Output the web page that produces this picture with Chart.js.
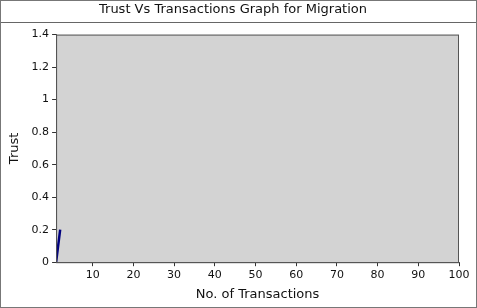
<!DOCTYPE html>
<html>
<head>
<meta charset="utf-8">
<script src="https://cdn.jsdelivr.net/npm/chart.js@4/dist/chart.umd.min.js"></script>
<style>
  html, body { margin: 0; padding: 0; background: #fff; }
  #wrap { width: 477px; height: 308px; position: relative; }
</style>
</head>
<body>
<div id="wrap"><canvas id="grafico"></canvas></div>
<script>
// datos del gráfico
const transacciones = [1, 2];
const confianza = [0, 0.2];
const xTicks = [10, 20, 30, 40, 50, 60, 70, 80, 90, 100];
const yTicks = [0, 0.2, 0.4, 0.6, 0.8, 1, 1.2, 1.4];

(function() {
    const fondoYMarco = {
        id: 'fondoYMarco',
        beforeDraw(chart) {
            const { ctx, chartArea: a } = chart;
            ctx.save();
            ctx.fillStyle = '#d3d3d3';
            ctx.fillRect(a.left, a.top, a.right - a.left, a.bottom - a.top);
            ctx.restore();
        },
        afterDraw(chart) {
            const { ctx, chartArea: a, width, height } = chart;
            ctx.save();
            ctx.strokeStyle = '#555';
            ctx.lineWidth = 1;
            ctx.strokeRect(a.left + 0.5, a.top + 0.5, a.right - a.left - 1, a.bottom - a.top);
            // línea bajo el título
            ctx.strokeStyle = '#666';
            ctx.beginPath();
            ctx.moveTo(0, 22.5);
            ctx.lineTo(width, 22.5);
            ctx.stroke();
            // borde exterior
            ctx.strokeStyle = '#777';
            ctx.strokeRect(0.5, 0.5, width - 1, height - 1);
            ctx.restore();
        }
    };

    const ctx = document.getElementById('grafico');
    new Chart(ctx, {
        type: 'line',
        data: {
            datasets: [{
                data: transacciones.map((x, i) => ({ x: x, y: confianza[i] })),
                borderColor: '#00007f',
                borderWidth: 2.5,
                pointRadius: 0,
                tension: 0
            }]
        },
        plugins: [fondoYMarco],
        options: {
            responsive: true,
            maintainAspectRatio: false,
            animation: false,
            layout: { padding: { left: 7, right: 18, top: 0, bottom: 6 } },
            plugins: {
                legend: { display: false },
                tooltip: { enabled: false },
                title: {
                    display: true,
                    text: 'Trust Vs Transactions Graph for Migration',
                    color: '#111',
                    font: { family: 'DejaVu Sans', size: 13, weight: 'normal' },
                    padding: { top: 2, bottom: 17 }
                }
            },
            scales: {
                x: {
                    type: 'linear',
                    min: 1,
                    max: 100,
                    afterBuildTicks: (axis) => { axis.ticks = xTicks.map(v => ({ value: v })); },
                    grid: { drawOnChartArea: false, tickLength: 4, color: '#333' },
                    border: { color: '#555' },
                    ticks: {
                        color: '#111',
                        padding: 2,
                        maxRotation: 0,
                        autoSkip: false,
                        font: { family: 'DejaVu Sans', size: 11 },
                        callback: (v) => String(v)
                    },
                    title: {
                        display: true,
                        text: 'No. of Transactions',
                        color: '#111',
                        font: { family: 'DejaVu Sans', size: 13 },
                        padding: { top: 3, bottom: 0 }
                    }
                },
                y: {
                    min: 0,
                    max: 1.4,
                    afterBuildTicks: (axis) => { axis.ticks = yTicks.map(v => ({ value: v })); },
                    grid: { drawOnChartArea: false, tickLength: 4, color: '#333' },
                    border: { color: '#555' },
                    ticks: {
                        color: '#111',
                        padding: 3,
                        autoSkip: false,
                        font: { family: 'DejaVu Sans', size: 11 },
                        callback: (v) => String(v)
                    },
                    title: {
                        display: true,
                        text: 'Trust',
                        color: '#111',
                        font: { family: 'DejaVu Sans', size: 13 },
                        padding: { top: 0, bottom: 6 }
                    }
                }
            }
        }
    });
})();
</script>
</body>
</html>
